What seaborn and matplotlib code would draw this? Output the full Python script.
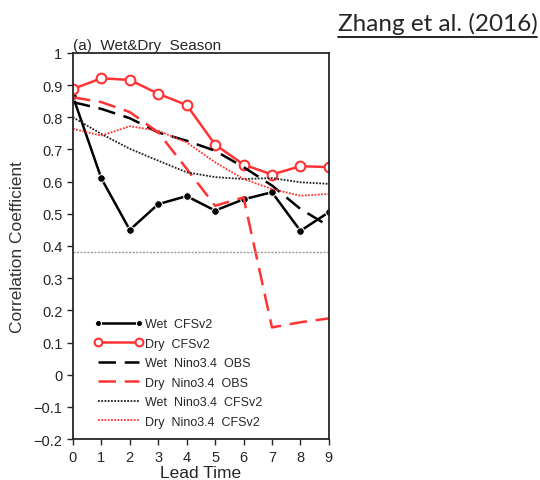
import numpy as np
import pandas as pd
import seaborn as sns
import matplotlib.pyplot as plt

lead = [0, 1, 2, 3, 4, 5, 6, 7, 8, 9]
wet_cfs = [0.865, 0.61, 0.45, 0.53, 0.555, 0.51, 0.545, 0.567, 0.447, 0.505]
dry_cfs = [0.888, 0.921, 0.916, 0.873, 0.838, 0.715, 0.653, 0.622, 0.648, 0.645]
wet_nino_obs = [0.847, 0.826, 0.797, 0.753, 0.727, 0.696, 0.645, 0.588, 0.515, 0.462]
dry_nino_obs = [0.862, 0.847, 0.816, 0.753, 0.64, 0.525, 0.551, 0.147, 0.163, 0.175]
wet_nino_cfs = [0.80, 0.748, 0.702, 0.665, 0.629, 0.614, 0.608, 0.611, 0.598, 0.593]
dry_nino_cfs = [0.764, 0.743, 0.772, 0.758, 0.722, 0.66, 0.608, 0.577, 0.556, 0.562]
sig_level = 0.38

sns.set_style("ticks")
plt.rcParams['font.family'] = ['Liberation Sans', 'DejaVu Sans']

fig = plt.figure(figsize=(5.4, 4.81), dpi=100)
ax = fig.add_axes([0.135, 0.085, 0.474, 0.803])

red = "#ff3333"
series = [
    ("Wet  CFSv2", wet_cfs, "black", dict(marker="o", markersize=5.5, linestyle="-")),
    ("Dry  CFSv2", dry_cfs, red, dict(marker="o", markersize=7, markerfacecolor="white",
                                      markeredgecolor=red, markeredgewidth=1.5, linestyle="-")),
    ("Wet  Nino3.4  OBS", wet_nino_obs, "black", dict(linestyle=(0, (7, 3.5)))),
    ("Dry  Nino3.4  OBS", dry_nino_obs, red, dict(linestyle=(0, (7, 3.5)))),
    ("Wet  Nino3.4  CFSv2", wet_nino_cfs, "#222222", dict(linestyle=(0, (1, 0.8)), linewidth=1.3)),
    ("Dry  Nino3.4  CFSv2", dry_nino_cfs, red, dict(linestyle=(0, (1, 0.8)), linewidth=1.3)),
]

for label, vals, color, kw in series:
    df = pd.DataFrame({"lead": lead, "r": vals})
    lw = kw.pop("linewidth", 1.8)
    sns.lineplot(data=df, x="lead", y="r", ax=ax, color=color, label=label,
                 linewidth=lw, **kw)

ax.axhline(sig_level, color="#999999", linestyle=(0, (1.5, 1)), linewidth=1.0)

ax.set_xlim(0, 9)
ax.set_ylim(-0.2, 1.0)
ax.set_xticks(lead)
yt = np.round(np.arange(-0.2, 1.01, 0.1), 1)
ax.set_yticks(yt)
ax.set_yticklabels([("%g" % v).replace("-", "\u2212") for v in yt])
ax.tick_params(labelsize=10.5, length=4, width=1)
for s in ax.spines.values():
    s.set_linewidth(1.3)
    s.set_visible(True)

ax.set_xlabel("Lead Time", fontsize=12.5, labelpad=1)
ax.set_ylabel("Correlation Coefficient", fontsize=12.5, labelpad=6, color="#333333")
ax.set_title("(a)  Wet&Dry  Season", fontsize=11, loc="left", pad=3)

leg = ax.legend(loc="lower left", bbox_to_anchor=(0.04, 0.0), frameon=False,
                fontsize=9, handlelength=3.9, numpoints=2, labelspacing=0.6,
                handletextpad=0.15, markerscale=0.8)

# citation label, underlined to match its own width
cite = fig.text(0.995, 0.935, "Zhang et al. (2016)", ha="right", va="baseline",
                fontsize=17.5, family=["Lato", "DejaVu Sans"])
fig.canvas.draw()
bb = cite.get_window_extent().transformed(fig.transFigure.inverted())
fig.add_artist(plt.Line2D([bb.x0, bb.x1], [0.922, 0.922], color="black", linewidth=1.2,
                          transform=fig.transFigure))

fig.savefig("out.png", dpi=100)
